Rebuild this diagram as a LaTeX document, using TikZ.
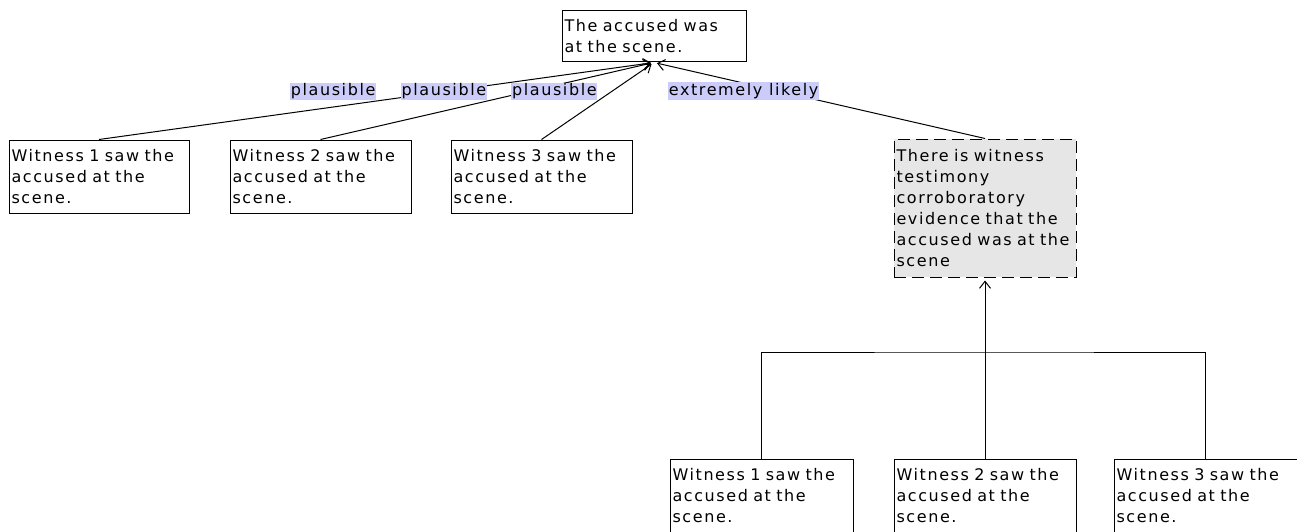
\documentclass[tikz,border=0pt]{standalone}
\usepackage{fontspec}
\usepackage{tikz}
\usetikzlibrary{positioning, arrows.meta}
\newfontfamily\diagfont{DejaVu Sans}[LetterSpace=10]
\definecolor{lblblue}{RGB}{204,204,250}
\definecolor{corrgrey}{RGB}{230,230,230}

\begin{document}
\begin{tikzpicture}[x=1pt,y=-1pt,line width=1pt,
        >={Straight Barb[length=7pt,width=11pt]},
        box/.style={draw,rectangle,align=left,inner sep=0pt,
            font=\diagfont\fontsize{16}{21}\selectfont},
        lbl/.style={fill=lblblue,inner sep=0.6pt,anchor=south east,
            text height=12.5pt,text depth=4pt,
            font=\diagfont\fontsize{16}{21}\selectfont}]
        \clip (0,0) rectangle (1297,532);
        \fill[white] (0,0) rectangle (1297,532);

        \node[box,minimum width=184pt,minimum height=51pt,text width=179pt] (C) at (654,36.5) {The accused was\\at the scene.};
        \node[box,minimum width=180pt,minimum height=73pt,text width=175pt] (w1) at (99,176.5) {Witness 1 saw the\\accused at the\\scene.};
        \node[box,minimum width=181pt,minimum height=73pt,text width=176pt] (w2) at (320.5,176.5) {Witness 2 saw the\\accused at the\\scene.};
        \node[box,minimum width=181pt,minimum height=73pt,text width=176pt] (w3) at (541.5,176.5) {Witness 3 saw the\\accused at the\\scene.};
        \node[box,dash pattern=on 12pt off 6pt,fill=corrgrey,minimum width=182pt,minimum height=138pt,text width=177pt] (R) at (985,208) {There is witness\\testimony\\corroboratory\\evidence that the\\accused was at the\\scene};
        \node[box,minimum width=183pt,minimum height=74pt,text width=178pt] (b1) at (761.5,496) {Witness 1 saw the\\accused at the\\scene.};
        \node[box,minimum width=182pt,minimum height=74pt,text width=177pt] (b2) at (985,496) {Witness 2 saw the\\accused at the\\scene.};
        \node[box,minimum width=183pt,minimum height=74pt,text width=178pt] (b3) at (1205.5,496) {Witness 3 saw the\\accused at the\\scene.};
        \coordinate (J) at (985,352);

        \path[->,shorten >=3pt] (w1.north) edge node[lbl] {plausible} (C.south)
                  (w2.north) edge node[lbl] {plausible} (C.south)
                  (w3.north) edge node[lbl] {plausible} (C.south)
                  (R.north)  edge node[lbl] {extremely likely} (C.south)
                  (b2.north) edge (R.south);
        \draw (b1.north) |- (J) -| (b3.north);
    \end{tikzpicture}
\end{document}
